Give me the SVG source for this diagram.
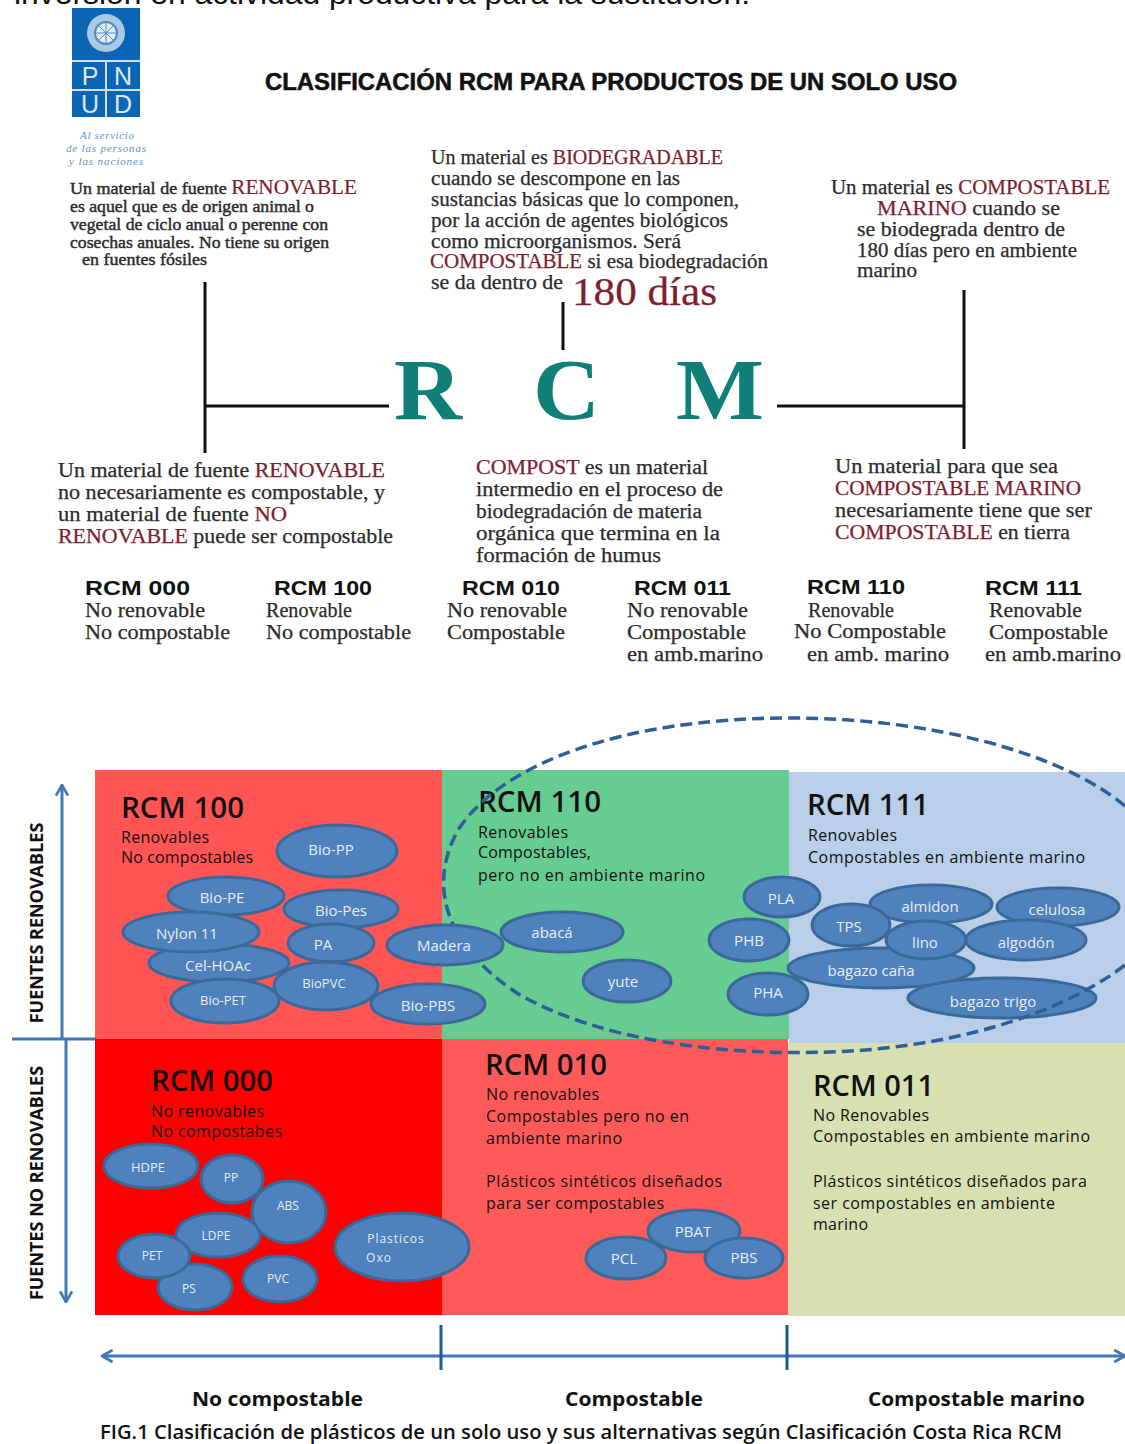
<svg xmlns="http://www.w3.org/2000/svg" width="1125" height="1444" viewBox="0 0 1125 1444">
<style>
.s{font-family:"Liberation Serif","DejaVu Serif",serif;fill:#2b2b2b;stroke:#2b2b2b;stroke-width:.25;font-size:20px}
.m{font-size:17px;stroke-width:.45}
.r{fill:#7f1d2d;stroke:#7f1d2d}
.h{font-family:"Liberation Sans",Arial,sans-serif;font-weight:bold;fill:#111;stroke:none;font-size:21px}
.t{font-family:"Open Sans","Liberation Sans",sans-serif;fill:#111;font-size:16px}
.q{font-family:"Open Sans","Liberation Sans",sans-serif;fill:#111;font-size:28px;font-weight:600}
.e{fill:#4f81bd;stroke:#3a6899;stroke-width:3}
.l{font-family:"Open Sans","Liberation Sans",sans-serif;fill:#e8eef6;font-size:15px;text-anchor:middle}
.ax{fill:none;stroke:#3f78b5;stroke-width:3}
.k{fill:none;stroke:#111;stroke-width:3}
.rcm{font-family:"Liberation Serif",serif;fill:#0f7f78;font-size:86px;font-weight:bold}
.w{font-family:"Open Sans","Liberation Sans",sans-serif;font-weight:bold;font-size:20px;fill:#111}
</style>
<defs>
<marker id="a" viewBox="0 0 12 12" refX="11" refY="6" markerWidth="16" markerHeight="16" orient="auto-start-reverse" markerUnits="userSpaceOnUse"><path d="M3 1.5L11 6L3 10.5" fill="none" stroke="#3f78b5" stroke-width="2"/></marker>
</defs>
<rect width="1125" height="1444" fill="#fff"/>
<text x="14" y="4" font-family="Liberation Sans,Arial,sans-serif" font-size="29" fill="#111" textLength="736" lengthAdjust="spacingAndGlyphs">inversión en actividad productiva para la sustitución.</text>

<g id="logo">
<rect x="72" y="8" width="68" height="109" fill="#0a66b5"/>
<path d="M72 61H140M72 90H140M106 61V117" stroke="#cfe0ef" stroke-width="2" fill="none"/>
<circle cx="106" cy="33" r="19" fill="#a9c9e4"/>
<circle cx="106" cy="33" r="11" fill="#e3edf6" stroke="#4d8cc4" stroke-width="2"/>
<path d="M95 33H117M106 22V44M98 25L114 41M114 25L98 41" stroke="#4d8cc4" stroke-width="1"/>
<g font-family="Liberation Sans,Arial,sans-serif" font-size="25" fill="#dbe8f3" text-anchor="middle"><text x="90" y="85">P</text><text x="123" y="85">N</text><text x="90" y="113">U</text><text x="123" y="113">D</text></g>
<g font-family="Liberation Serif,serif" font-style="italic" font-size="11" fill="#5a93c6" text-anchor="middle"><text x="107" y="139" textLength="54">Al servicio</text><text x="106" y="152" textLength="80">de las personas</text><text x="106" y="165" textLength="74">y las naciones</text></g>
</g>

<text id="title" x="265" y="90" font-family="Liberation Sans,Arial,sans-serif" font-weight="bold" font-size="23" fill="#111" stroke="#111" stroke-width=".5" textLength="692" lengthAdjust="spacingAndGlyphs">CLASIFICACIÓN RCM PARA PRODUCTOS DE UN SOLO USO</text>

<g id="renovable-def" class="s">
<text x="70" y="194" class="m" textLength="287" lengthAdjust="spacingAndGlyphs">Un material de fuente <tspan class="r" style="font-size:20px;stroke-width:.2">RENOVABLE</tspan></text>
<text x="70" y="212" class="m" textLength="244" lengthAdjust="spacingAndGlyphs">es aquel que es de origen animal o</text>
<text x="70" y="230" class="m" textLength="258" lengthAdjust="spacingAndGlyphs">vegetal de ciclo anual o perenne con</text>
<text x="70" y="248" class="m" textLength="259" lengthAdjust="spacingAndGlyphs">cosechas anuales. No tiene su origen</text>
<text x="82" y="265" class="m" textLength="125" lengthAdjust="spacingAndGlyphs">en  fuentes fósiles</text>
</g>

<g id="biodegradable-def" class="s">
<text x="431" y="164" textLength="292" lengthAdjust="spacingAndGlyphs">Un material es <tspan class="r">BIODEGRADABLE</tspan></text>
<text x="431" y="185" textLength="249" lengthAdjust="spacingAndGlyphs">cuando se descompone en las</text>
<text x="431" y="206" textLength="308" lengthAdjust="spacingAndGlyphs">sustancias básicas que lo componen,</text>
<text x="431" y="227" textLength="297" lengthAdjust="spacingAndGlyphs">por la acción de agentes biológicos</text>
<text x="431" y="248" textLength="250" lengthAdjust="spacingAndGlyphs">como microorganismos.  Será</text>
<text x="430" y="268" textLength="338" lengthAdjust="spacingAndGlyphs"><tspan class="r">COMPOSTABLE</tspan>  si esa biodegradación</text>
<text x="431" y="289" textLength="132" lengthAdjust="spacingAndGlyphs">se da dentro de</text>
<text x="572" y="305" class="r" style="font-size:41px" textLength="145" lengthAdjust="spacingAndGlyphs">180 días</text>
</g>

<g id="marino-def" class="s">
<text x="831" y="194" textLength="279" lengthAdjust="spacingAndGlyphs">Un material es <tspan class="r">COMPOSTABLE</tspan></text>
<text x="877" y="215" textLength="183" lengthAdjust="spacingAndGlyphs"><tspan class="r">MARINO</tspan>  cuando se</text>
<text x="857" y="236" textLength="208" lengthAdjust="spacingAndGlyphs">se biodegrada dentro de</text>
<text x="857" y="257" textLength="220" lengthAdjust="spacingAndGlyphs">180 días pero en ambiente</text>
<text x="857" y="277" textLength="60" lengthAdjust="spacingAndGlyphs">marino</text>
</g>

<g id="connectors">
<path class="k" d="M205 282V453M205 406H389M563 302V350M964 290V449M777 406H964"/>
</g>

<g id="rcm-letters">
<text x="394" y="419" class="rcm" textLength="68" lengthAdjust="spacingAndGlyphs">R</text>
<text x="533" y="419" class="rcm" textLength="67" lengthAdjust="spacingAndGlyphs">C</text>
<text x="676" y="419" class="rcm" textLength="88" lengthAdjust="spacingAndGlyphs">M</text>
</g>

<g id="nota-renovable" class="s">
<text x="58" y="477" textLength="327" lengthAdjust="spacingAndGlyphs">Un material de fuente <tspan class="r">RENOVABLE</tspan></text>
<text x="58" y="499" textLength="327" lengthAdjust="spacingAndGlyphs">no necesariamente es compostable, y</text>
<text x="58" y="521" textLength="229" lengthAdjust="spacingAndGlyphs">un material de fuente <tspan class="r">NO</tspan></text>
<text x="58" y="543" textLength="335" lengthAdjust="spacingAndGlyphs"><tspan class="r">RENOVABLE</tspan> puede ser compostable</text>
</g>
<g id="nota-compost" class="s">
<text x="476" y="474" textLength="232" lengthAdjust="spacingAndGlyphs"><tspan class="r">COMPOST</tspan> es un material</text>
<text x="476" y="496" textLength="247" lengthAdjust="spacingAndGlyphs">intermedio en el proceso de</text>
<text x="476" y="518" textLength="226" lengthAdjust="spacingAndGlyphs">biodegradación de materia</text>
<text x="476" y="540" textLength="244" lengthAdjust="spacingAndGlyphs">orgánica  que termina en la</text>
<text x="476" y="562" textLength="185" lengthAdjust="spacingAndGlyphs">formación de humus</text>
</g>
<g id="nota-marino" class="s">
<text x="835" y="473" textLength="223" lengthAdjust="spacingAndGlyphs">Un material para que sea</text>
<text x="835" y="495" class="r" textLength="246" lengthAdjust="spacingAndGlyphs">COMPOSTABLE MARINO</text>
<text x="835" y="517" textLength="257" lengthAdjust="spacingAndGlyphs">necesariamente tiene que ser</text>
<text x="835" y="539" textLength="235" lengthAdjust="spacingAndGlyphs"><tspan class="r">COMPOSTABLE</tspan> en tierra</text>
</g>

<g id="codigos" class="s">
<text x="85" y="595" class="h" textLength="105" lengthAdjust="spacingAndGlyphs">RCM  000</text><text x="85" y="617" textLength="120" lengthAdjust="spacingAndGlyphs">No renovable</text><text x="85" y="639" textLength="145" lengthAdjust="spacingAndGlyphs">No compostable</text>
<text x="274" y="595" class="h" textLength="98" lengthAdjust="spacingAndGlyphs">RCM 100</text><text x="266" y="617" textLength="86" lengthAdjust="spacingAndGlyphs">Renovable</text><text x="266" y="639" textLength="145" lengthAdjust="spacingAndGlyphs">No compostable</text>
<text x="462" y="595" class="h" textLength="98" lengthAdjust="spacingAndGlyphs">RCM 010</text><text x="447" y="617" textLength="120" lengthAdjust="spacingAndGlyphs">No renovable</text><text x="447" y="639" textLength="118" lengthAdjust="spacingAndGlyphs">Compostable</text>
<text x="634" y="595" class="h" textLength="97" lengthAdjust="spacingAndGlyphs">RCM 011</text><text x="627" y="617" textLength="121" lengthAdjust="spacingAndGlyphs">No renovable</text><text x="627" y="639" textLength="119" lengthAdjust="spacingAndGlyphs">Compostable</text><text x="627" y="661" textLength="136" lengthAdjust="spacingAndGlyphs">en amb.marino</text>
<text x="807" y="594" class="h" textLength="98" lengthAdjust="spacingAndGlyphs">RCM 110</text><text x="808" y="617" textLength="86" lengthAdjust="spacingAndGlyphs">Renovable</text><text x="794" y="638" textLength="152" lengthAdjust="spacingAndGlyphs">No Compostable</text><text x="807" y="661" textLength="142" lengthAdjust="spacingAndGlyphs">en amb. marino</text>
<text x="985" y="595" class="h" textLength="97" lengthAdjust="spacingAndGlyphs">RCM 111</text><text x="989" y="617" textLength="93" lengthAdjust="spacingAndGlyphs">Renovable</text><text x="989" y="639" textLength="119" lengthAdjust="spacingAndGlyphs">Compostable</text><text x="985" y="661" textLength="136" lengthAdjust="spacingAndGlyphs">en amb.marino</text>
</g>

<g id="cuadrantes">
<rect x="95" y="770" width="347" height="269" fill="#ff5555"/>
<rect x="442" y="770" width="347" height="269" fill="#66cc92"/>
<rect x="789" y="772" width="336" height="271" fill="#b8cee9"/>
<rect x="95" y="1039" width="347" height="276" fill="#ff0000"/>
<rect x="442" y="1039" width="346" height="276" fill="#ff5a5a"/>
<rect x="788" y="1043" width="337" height="273" fill="#d6e0b0"/>
</g>

<g id="ejes">
<path class="ax" d="M62 1038V785" marker-end="url(#a)"/>
<path class="ax" d="M66 1040V1302" marker-end="url(#a)"/>
<path d="M12 1039H95" stroke="#3f78b5" stroke-width="3"/>
<path class="ax" d="M102 1356H1125" marker-start="url(#a)" marker-end="url(#a)"/>
<path d="M441 1325V1370M787 1325V1370" stroke="#1f5a94" stroke-width="3"/>
<g font-family="Open Sans,Liberation Sans,sans-serif" font-weight="bold" font-size="18" fill="#111" text-anchor="middle">
<text transform="translate(43 923) rotate(-90)">FUENTES RENOVABLES</text>
<text transform="translate(43 1183) rotate(-90)">FUENTES NO RENOVABLES</text>
</g>
</g>

<g id="q100"><text x="121" y="818" class="q" textLength="123" lengthAdjust="spacingAndGlyphs">RCM 100</text><text x="121" y="843" class="t" textLength="88">Renovables</text><text x="121" y="863" class="t" textLength="132">No compostables</text></g>
<g id="q110"><text x="478" y="812" class="q" textLength="123" lengthAdjust="spacingAndGlyphs">RCM 110</text><text x="478" y="838" class="t" textLength="90">Renovables</text><text x="478" y="858" class="t" textLength="113">Compostables,</text><text x="478" y="881" class="t" textLength="227">pero no en ambiente marino</text></g>
<g id="q111"><text x="807" y="815" class="q" textLength="122" lengthAdjust="spacingAndGlyphs">RCM 111</text><text x="808" y="841" class="t" textLength="89">Renovables</text><text x="808" y="863" class="t" textLength="277">Compostables en ambiente marino</text></g>
<g id="q000"><text x="151" y="1091" class="q" textLength="122" lengthAdjust="spacingAndGlyphs">RCM 000</text><text x="151" y="1117" class="t" textLength="113">No renovables</text><text x="151" y="1137" class="t" textLength="131">No compostabes</text></g>
<g id="q010"><text x="485" y="1075" class="q" textLength="122" lengthAdjust="spacingAndGlyphs">RCM 010</text><text x="486" y="1100" class="t" textLength="113">No renovables</text><text x="486" y="1122" class="t" textLength="203">Compostables pero no en</text><text x="486" y="1144" class="t" textLength="136">ambiente marino</text><text x="486" y="1187" class="t" textLength="236">Plásticos sintéticos diseñados</text><text x="486" y="1209" class="t" textLength="178">para ser compostables</text></g>
<g id="q011"><text x="813" y="1096" class="q" textLength="121" lengthAdjust="spacingAndGlyphs">RCM 011</text><text x="813" y="1121" class="t" textLength="116">No Renovables</text><text x="813" y="1142" class="t" textLength="277">Compostables en ambiente marino</text><text x="813" y="1187" class="t" textLength="274">Plásticos sintéticos diseñados para</text><text x="813" y="1209" class="t" textLength="242">ser compostables en ambiente</text><text x="813" y="1230" class="t" textLength="55">marino</text></g>

<g id="n-biopp"><ellipse class="e" cx="337" cy="851" rx="60" ry="26"/><text class="l" x="331" y="855">Bio-PP</text></g>
<g id="n-biope"><ellipse class="e" cx="226" cy="896" rx="58" ry="19"/><text class="l" x="222" y="903">Bio-PE</text></g>
<g id="n-biopes"><ellipse class="e" cx="341" cy="909" rx="57" ry="19"/><text class="l" x="341" y="916">Bio-Pes</text></g>
<g id="n-celhoac"><ellipse class="e" cx="219" cy="963" rx="70" ry="19"/><text class="l" x="218" y="971">Cel-HOAc</text></g>
<g id="n-nylon"><ellipse class="e" cx="191" cy="932" rx="68" ry="20"/><text class="l" x="187" y="939">Nylon 11</text></g>
<g id="n-pa"><ellipse class="e" cx="331" cy="943" rx="43" ry="19"/><text class="l" x="323" y="950">PA</text></g>
<g id="n-biopet"><ellipse class="e" cx="225" cy="1001" rx="54" ry="22"/><text class="l" x="223" y="1005" style="font-size:13px">Bio-PET</text></g>
<g id="n-biopvc"><ellipse class="e" cx="326" cy="986" rx="52" ry="24"/><text class="l" x="324" y="988" style="font-size:13px">BioPVC</text></g>
<g id="n-biopbs"><ellipse class="e" cx="428" cy="1004" rx="57" ry="20"/><text class="l" x="428" y="1011">Bio-PBS</text></g>
<g id="n-abaca"><ellipse class="e" cx="562" cy="932" rx="61" ry="20"/><text class="l" x="552" y="938">abacá</text></g>
<g id="n-yute"><ellipse class="e" cx="627" cy="981" rx="44" ry="21"/><text class="l" x="623" y="987">yute</text></g>
<g id="n-pla"><ellipse class="e" cx="782" cy="897" rx="38" ry="20"/><text class="l" x="781" y="904">PLA</text></g>
<g id="n-phb"><ellipse class="e" cx="749" cy="940" rx="40" ry="21"/><text class="l" x="749" y="946">PHB</text></g>
<g id="n-almidon"><ellipse class="e" cx="931" cy="904" rx="61" ry="19"/><text class="l" x="930" y="912">almidon</text></g>
<g id="n-celulosa"><ellipse class="e" cx="1058" cy="907" rx="61" ry="19"/><text class="l" x="1057" y="915">celulosa</text></g>
<g id="n-bagazocana"><ellipse class="e" cx="881" cy="968" rx="93" ry="20"/><text class="l" x="871" y="976">bagazo caña</text></g>
<g id="n-pha"><ellipse class="e" cx="768" cy="994" rx="40" ry="21"/><text class="l" x="768" y="998">PHA</text></g>
<g id="n-tps"><ellipse class="e" cx="851" cy="925" rx="39" ry="21"/><text class="l" x="849" y="932">TPS</text></g>
<g id="n-lino"><ellipse class="e" cx="926" cy="940" rx="40" ry="19"/><text class="l" x="925" y="948">lino</text></g>
<g id="n-algodon"><ellipse class="e" cx="1026" cy="940" rx="60" ry="20"/><text class="l" x="1026" y="948">algodón</text></g>
<g id="n-bagazotrigo"><ellipse class="e" cx="1002" cy="998" rx="94" ry="20"/><text class="l" x="993" y="1007">bagazo trigo</text></g>
<g id="n-hdpe"><ellipse class="e" cx="151" cy="1166" rx="47" ry="22"/><text class="l" x="148" y="1172" style="font-size:13px">HDPE</text></g>
<g id="n-pp"><ellipse class="e" cx="232" cy="1179" rx="31" ry="24"/><text class="l" x="231" y="1182" style="font-size:12px">PP</text></g>
<g id="n-ldpe"><ellipse class="e" cx="218" cy="1235" rx="42" ry="22"/><text class="l" x="216" y="1240" style="font-size:12px">LDPE</text></g>
<g id="n-abs"><ellipse class="e" cx="289" cy="1212" rx="37" ry="31"/><text class="l" x="288" y="1210" style="font-size:12px">ABS</text></g>
<g id="n-ps"><ellipse class="e" cx="195" cy="1287" rx="37" ry="23"/><text class="l" x="189" y="1293" style="font-size:12px">PS</text></g>
<g id="n-pet"><ellipse class="e" cx="154" cy="1256" rx="36" ry="22"/><text class="l" x="152" y="1260" style="font-size:12px">PET</text></g>
<g id="n-pvc"><ellipse class="e" cx="280" cy="1279" rx="37" ry="23"/><text class="l" x="278" y="1283" style="font-size:12px">PVC</text></g>
<g id="n-oxo"><ellipse class="e" cx="402" cy="1247" rx="67" ry="34"/><text class="l" x="396" y="1243" style="font-size:12px;letter-spacing:1px">Plasticos</text><text class="l" x="379" y="1262" style="font-size:12px;letter-spacing:1px">Oxo</text></g>
<g id="n-pbat"><ellipse class="e" cx="694" cy="1231" rx="46" ry="21"/><text class="l" x="693" y="1237">PBAT</text></g>
<g id="n-pcl"><ellipse class="e" cx="626" cy="1258" rx="40" ry="21"/><text class="l" x="624" y="1264">PCL</text></g>
<g id="n-pbs"><ellipse class="e" cx="744" cy="1258" rx="39" ry="20"/><text class="l" x="744" y="1263">PBS</text></g>

<path id="marino-ring" d="M1125 806C1060 752 930 718 790 718C620 718 500 765 458 830C425 890 450 950 520 995C600 1040 720 1056 830 1052C950 1048 1060 1015 1125 965" fill="none" stroke="#2f5f97" stroke-width="3.5" stroke-dasharray="12 6"/>

<g id="n-madera"><ellipse class="e" cx="445" cy="945" rx="58" ry="20"/><text class="l" x="444" y="951">Madera</text></g>

<g>
<text x="192" y="1406" class="w" textLength="171" lengthAdjust="spacingAndGlyphs">No compostable</text>
<text x="565" y="1406" class="w" textLength="138" lengthAdjust="spacingAndGlyphs">Compostable</text>
<text x="868" y="1406" class="w" textLength="217" lengthAdjust="spacingAndGlyphs">Compostable marino</text>
</g>
<text id="caption" x="100" y="1439" font-family="Open Sans,Liberation Sans,sans-serif" font-weight="600" font-size="19" fill="#111" textLength="962" lengthAdjust="spacingAndGlyphs">FIG.1  Clasificación de plásticos de un solo uso y sus alternativas según Clasificación Costa Rica RCM</text>
</svg>
